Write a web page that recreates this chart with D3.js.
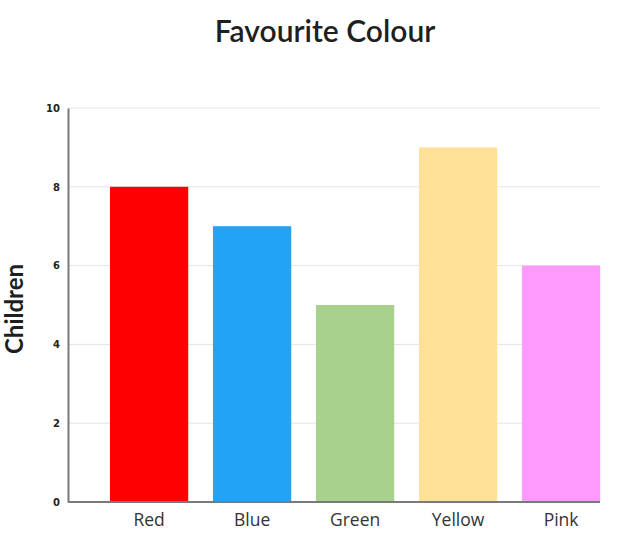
<!DOCTYPE html>
<html>
<head>
<meta charset="utf-8">
<script src="https://cdn.jsdelivr.net/npm/d3@7"></script>
<style>
  body { margin: 0; background: #fff; }
</style>
</head>
<body>
<script>
// Chart data
const categories = ['Red', 'Blue', 'Green', 'Yellow', 'Pink']
const children = [8, 7, 5, 9, 6]
const barColours = ['#ff0000', '#22a3f5', '#a9d18e', '#fee197', '#fe99fd']
const yTicks = [0, 2, 4, 6, 8, 10]

const WIDTH = 630
const HEIGHT = 538

const svg = d3.select('body')
  .append('svg')
  .attr('width', WIDTH)
  .attr('height', HEIGHT)

const x = d3.scaleBand()
  .domain(categories)
  .range([97.6, 612.6])
  .paddingInner(0.24)
  .paddingOuter(0.12)

const y = d3.scaleLinear()
  .domain([0, 10])
  .range([502, 108])

const plotLeft = 68
const plotRight = 600

// Gridlines
svg.append('g')
  .selectAll('line')
  .data(yTicks.filter(t => t > 0))
  .join('line')
  .attr('x1', plotLeft)
  .attr('x2', plotRight)
  .attr('y1', d => y(d))
  .attr('y2', d => y(d))
  .attr('stroke', '#e4e4e4')
  .attr('stroke-width', 1)

// Bars
svg.append('g')
  .selectAll('rect')
  .data(categories)
  .join('rect')
  .attr('x', d => x(d))
  .attr('width', x.bandwidth())
  .attr('y', (d, i) => y(children[i]))
  .attr('height', (d, i) => y(0) - y(children[i]))
  .attr('fill', (d, i) => barColours[i])

// Y axis
const yAxis = svg.append('g')
  .attr('transform', `translate(${plotLeft},0)`)
  .call(d3.axisLeft(y).tickValues(yTicks).tickSize(0).tickPadding(8))
yAxis.select('.domain').attr('stroke', '#7a7a7a').attr('stroke-width', 2)
yAxis.selectAll('text')
  .attr('font-family', 'DejaVu Sans')
  .attr('font-weight', 'bold')
  .attr('font-size', 10)
  .attr('fill', '#222')

// X axis
const xAxis = svg.append('g')
  .attr('transform', `translate(0,${y(0)})`)
  .call(d3.axisBottom(x).tickSize(0).tickPadding(12))
xAxis.select('.domain').remove()
xAxis.append('line')
  .attr('x1', plotLeft)
  .attr('x2', plotRight)
  .attr('stroke', '#7a7a7a')
  .attr('stroke-width', 2)
xAxis.selectAll('text')
  .attr('font-family', 'Open Sans')
  .attr('font-size', 17.5)
  .attr('fill', '#333')

// Title
svg.append('text')
  .attr('x', 325)
  .attr('y', 42)
  .attr('text-anchor', 'middle')
  .attr('font-family', 'Lato')
  .attr('font-weight', 600)
  .attr('font-size', 30)
  .attr('fill', '#1f1f1f')
  .text('Favourite Colour')

// Y label
svg.append('text')
  .attr('transform', 'translate(23,309) rotate(-90)')
  .attr('text-anchor', 'middle')
  .attr('font-family', 'Lato')
  .attr('font-weight', 'bold')
  .attr('font-size', 24)
  .attr('fill', '#1f1f1f')
  .text('Children')
</script>
</body>
</html>
